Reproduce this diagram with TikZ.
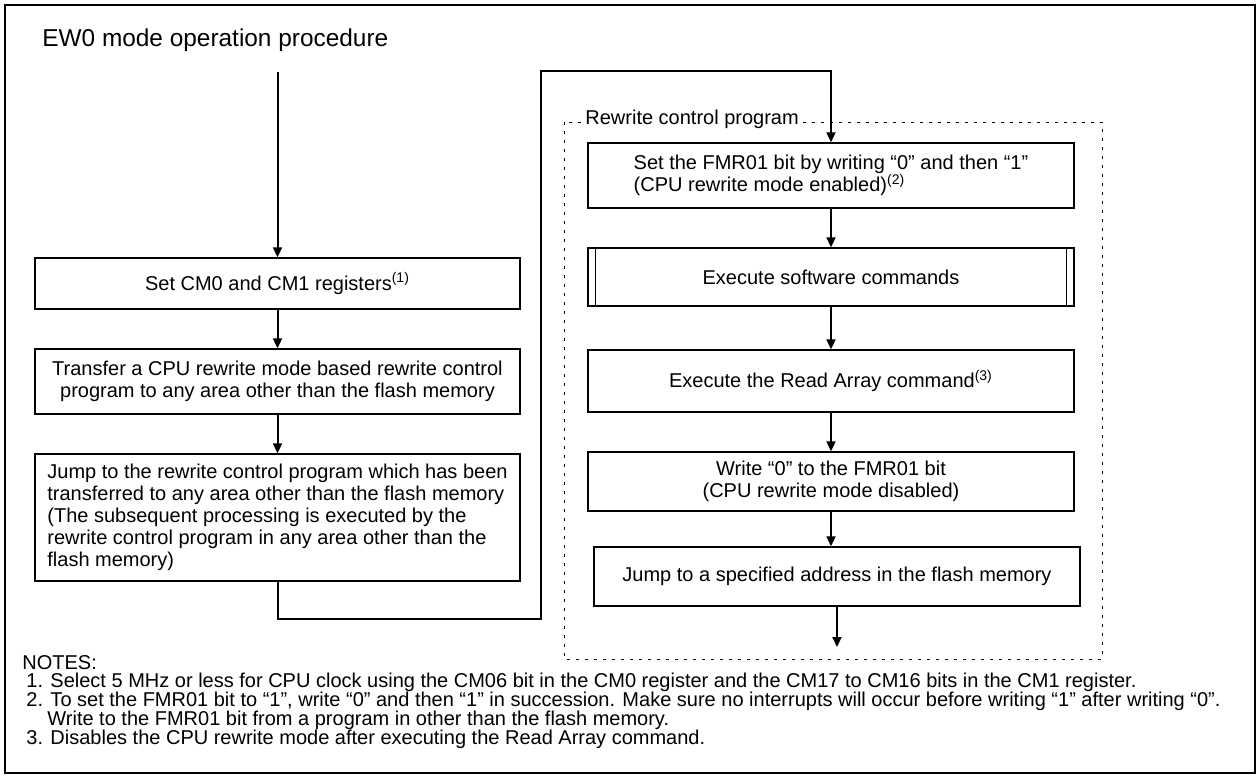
\documentclass[tikz,border=0pt]{standalone}
\usepackage{fontspec}
\setmainfont{Liberation Sans}
\usetikzlibrary{arrows.meta}

\begin{document}
\begin{tikzpicture}[x=0.5pt, y=-0.5pt,
		box/.style={draw, line width=0.7pt, inner sep=0pt, font=\fontsize{10}{11}\selectfont},
		flow/.style={line width=1pt, -{Triangle[length=5pt, width=4.5pt]}},
		dotbox/.style={line width=0.5pt, dash pattern=on 1.5pt off 3pt},
		note/.style={anchor=west, inner sep=0pt, font=\fontsize{10}{11}\selectfont}]
			\useasboundingbox (0,0) rectangle (1260,778);
			\draw[line width=1.2pt] (5,5) rectangle (1255,773);
			\node[anchor=west, inner sep=0pt, font=\fontsize{12.2}{14}\selectfont] (title) at (42,40) {EW0 mode operation procedure};
			\coordinate (start) at (277.5,72);
			\coordinate (low) at (541,619);
			\coordinate (high) at (541,71);
			\coordinate (exit) at (837,647);
			\node[box, minimum width=242.5pt, minimum height=25.5pt] (setcm) at (277.5,283.5) {Set CM0 and CM1 registers\textsuperscript{(1)}};
			\node[box, minimum width=242.5pt, minimum height=32.5pt, align=center] (xfer) at (277.5,381.5) {Transfer a CPU rewrite mode based rewrite control\\program to any area other than the flash memory};
			\node[box, minimum width=242.5pt, minimum height=63.5pt, align=left] (jump) at (277.5,517.5) {Jump to the rewrite control program which has been\\transferred to any area other than the flash memory\\(The subsequent processing is executed by the\\rewrite control program in any area other than the\\flash memory)};
			\draw[dotbox] (564,122) rectangle (1102,659);
			\node[anchor=base west, fill=white, inner sep=1pt, font=\fontsize{10}{11}\selectfont] (rcp) at (583,124) {Rewrite control program};
			\node[box, minimum width=243pt, minimum height=32.5pt, align=left] (fmr) at (831,175.5) {Set the FMR01 bit by writing “0” and then “1”\\(CPU rewrite mode enabled)\textsuperscript{(2)}};
			\node[box, minimum width=243pt, minimum height=29pt] (cmds) at (831,277) {Execute software commands};
			\draw[line width=0.7pt] ([xshift=4pt]cmds.north west) -- ([xshift=4pt]cmds.south west);
			\draw[line width=0.7pt] ([xshift=-4pt]cmds.north east) -- ([xshift=-4pt]cmds.south east);
			\node[box, minimum width=243pt, minimum height=31pt] (read) at (831,381) {Execute the Read Array command\textsuperscript{(3)}};
			\node[box, minimum width=243pt, minimum height=29.5pt, align=center] (clear) at (831,481.5) {Write “0” to the FMR01 bit\\(CPU rewrite mode disabled)};
			\node[box, minimum width=243pt, minimum height=29.5pt] (back) at (837,576.5) {Jump to a specified address in the flash memory};
			\draw[flow] (start) -- (setcm);
			\draw[flow] (setcm) -- (xfer);
			\draw[flow] (xfer) -- (jump);
			\draw[flow] (jump.south) |- (low) -- (high) -| (fmr.north);
			\draw[flow] (fmr) -- (cmds);
			\draw[flow] (cmds) -- (read);
			\draw[flow] (read) -- (clear);
			\draw[flow] (clear.south) -- (clear.south |- back.north);
			\draw[flow] (back) -- (exit);
			\node[note] (n0) at (22,663) {NOTES:};
			\node[note] (n1) at (26,682) {1. Select 5 MHz or less for CPU clock using the CM06 bit in the CM0 register and the CM17 to CM16 bits in the CM1 register.};
			\node[note] (n2) at (26,701) {2. To set the FMR01 bit to “1”, write “0” and then “1” in succession. Make sure no interrupts will occur before writing “1” after writing “0”.};
			\node[note] (n2b) at (47,720) {Write to the FMR01 bit from a program in other than the flash memory.};
			\node[note] (n3) at (26,739) {3. Disables the CPU rewrite mode after executing the Read Array command.};
		\end{tikzpicture}
\end{document}
